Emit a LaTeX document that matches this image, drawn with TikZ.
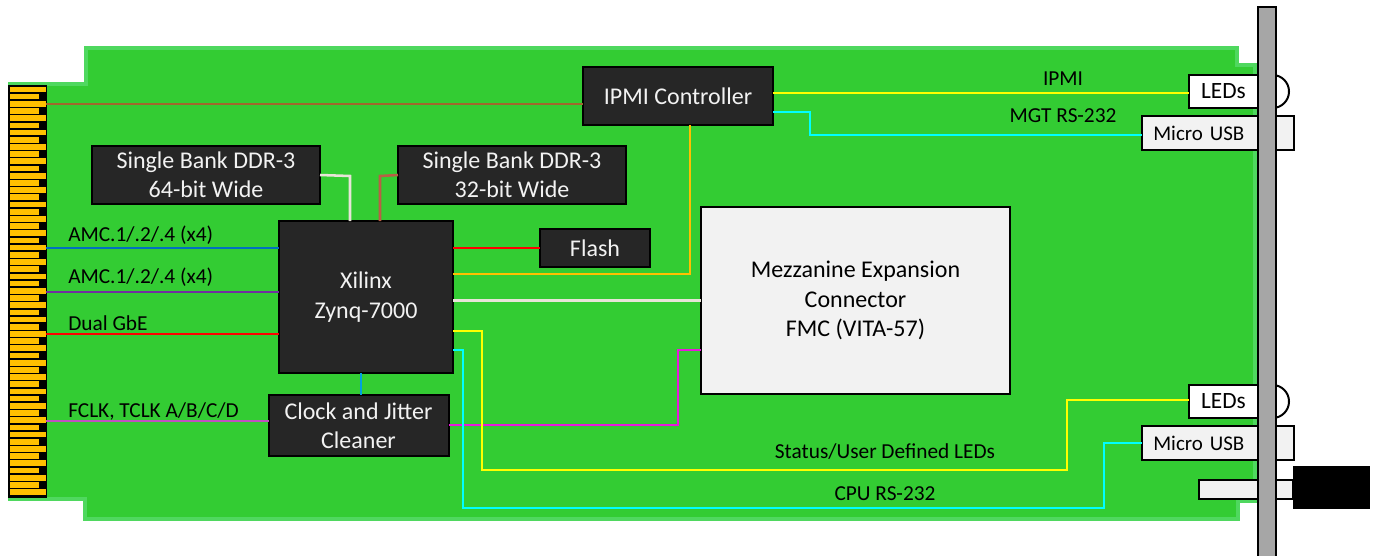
\documentclass[tikz,border=0pt]{standalone}
\usepackage{fontspec}
\usepackage{xcolor}
\usepackage{tikz}
\usetikzlibrary{positioning}
\setmainfont{Carlito}
\definecolor{boardGreen}{HTML}{33CC33}
\definecolor{boardEdge}{HTML}{4FD85F}
\definecolor{chipDark}{HTML}{262626}
\definecolor{partGrey}{HTML}{F2F2F2}
\definecolor{panelGrey}{HTML}{A6A6A6}
\definecolor{fingerGold}{HTML}{FFC000}
\definecolor{wireBrown}{HTML}{A0682D}
\definecolor{wireBlue}{HTML}{0070C0}
\definecolor{wireSky}{HTML}{00A0E0}
\definecolor{wirePurple}{HTML}{7030A0}
\definecolor{wireRed}{HTML}{FF0000}
\definecolor{wirePink}{HTML}{C050C0}
\definecolor{wireMagenta}{HTML}{E619DC}
\definecolor{wireRust}{HTML}{B85F45}
\definecolor{wirePale}{HTML}{E8E4D8}
\definecolor{wireYellow}{HTML}{FFFF00}
\definecolor{wireCyan}{HTML}{00FFFF}
\tikzset{
  chip/.style={draw=black, line width=1.5pt, fill=chipDark, text=partGrey, font=\fontsize{18}{22}\selectfont, align=center, inner sep=0pt, outer sep=0pt},
  part/.style={draw=black, line width=1.5pt, fill=partGrey, font=\fontsize{17.5}{20}\selectfont, inner sep=0pt, outer sep=0pt},
  usbpart/.style={part, font=\fontsize{15.7}{20}\selectfont, minimum width=114pt, minimum height=25.5pt, text width=114pt, align=left},
  wire/.style={line width=1.9pt},
  lbl/.style={font=\fontsize{16}{19}\selectfont, inner sep=0pt}
}
\begin{document}
\begin{tikzpicture}[x=.75pt, y=-.75pt]
  \useasboundingbox (0,0) rectangle (1374,556);
  % board outline
  \draw[boardEdge, line width=3pt, fill=boardGreen] (10,84) -- (86,84) -- (86,48) -- (1237,48) -- (1237,65) -- (1255,65) -- (1255,501) -- (1238,501) -- (1238,519) -- (85,519) -- (85,499) -- (10,499) -- cycle;
  % edge connector
  \node[draw=black, line width=1pt, fill=black, minimum width=27.75pt, minimum height=309pt, inner sep=0pt, outer sep=0pt] (edge) at (27.5,291.5) {};
  \foreach \i in {0,...,28}
    \fill[fingerGold, draw=black, line width=.6pt] (9,86+14.38*\i) rectangle (46,92.7+14.38*\i);
  \foreach \i in {0,...,27}
    \fill[fingerGold, draw=black, line width=.6pt] (9,93.2+14.38*\i) rectangle (39,99.9+14.38*\i);

  \node[chip, minimum width=130.5pt, minimum height=114pt] (zynq) at (366,297) {Xilinx\\Zynq-7000};
  \node[chip, below=16.5pt of zynq, xshift=-5.6pt, minimum width=135pt, minimum height=45.75pt] (clock) {Clock and Jitter\\Cleaner};
  \node[chip, above=12.75pt of zynq, xshift=-120pt, minimum width=171pt, minimum height=43.5pt] (ddrA) {Single Bank DDR-3\\64-bit Wide};
  \node[chip, right=58.5pt of ddrA, minimum width=171pt, minimum height=43.5pt] (ddrB) {Single Bank DDR-3\\32-bit Wide};
  \node[chip, minimum width=82.5pt, minimum height=28.5pt] (flash) at (595,248) {Flash};
  \node[chip, minimum width=142.5pt, minimum height=43.5pt] (ipmi) at (678,96) {IPMI Controller};
  \node[chip, fill=partGrey, text=black, minimum width=231.75pt, minimum height=140.25pt] (fmc) at (855.5,300.5) {\raisebox{-1.5pt}{Mezzanine Expansion}\\\raisebox{-1.5pt}{Connector}\\\raisebox{-1.5pt}{FMC (VITA-57)}};

  % front panel parts
  \node[circle, draw=black, line width=1.5pt, fill=white, minimum size=24.75pt, inner sep=0pt] (domeA) at (1272.5,91.5) {};
  \node[circle, draw=black, line width=1.5pt, fill=white, minimum size=24.75pt, inner sep=0pt] (domeB) at (1272.5,401.5) {};
  \node[part, fill=white, minimum width=52pt, minimum height=24.75pt] (ledA) at (1223.5,91.5) {LEDs};
  \node[part, fill=white, minimum width=52pt, minimum height=24.75pt] (ledB) at (1223.5,401.5) {LEDs};
  \node[usbpart] (usbA) at (1218,133) {\hspace{8.5pt}Micro USB};
  \node[usbpart] (usbB) at (1218,443) {\hspace{8.5pt}Micro USB};
  \node[part, minimum width=70.5pt, minimum height=14.25pt] (jack) at (1246,489.5) {};
  \node[draw=black, fill=panelGrey, line width=1.5pt, minimum width=13.5pt, minimum height=420pt, inner sep=0pt, outer sep=0pt] (panel) at (1267,287) {};
  \node[fill=black, minimum width=57.75pt, minimum height=32.25pt, inner sep=0pt, outer sep=0pt] (plug) at (1331.5,487.5) {};

  % wires
  \draw[wire, color=wireBrown] (edge.east |- 0,104) -- (ipmi.west |- 0,104);
  \draw[wire, color=wireBlue] (edge.east |- 0,248) -- (zynq.west |- 0,248);
  \draw[wire, color=wirePurple] (edge.east |- 0,292) -- (zynq.west |- 0,292);
  \draw[wire, color=wireRed] (edge.east |- 0,334) -- (zynq.west |- 0,334);
  \draw[wire, color=wirePink] (edge.east |- 0,421) -- (clock.west |- 0,421);
  \draw[wire, color=wirePale] (ddrA.east) -- (350,176) -- (zynq.north -| 350,0);
  \draw[wire, color=wireRust] (ddrB.west) -- (380,176) -- (zynq.north -| 380,0);
  \draw[wire, color=wireRed] (zynq.east |- flash.west) -- (flash.west);
  \draw[wire, line width=2.2pt, color=fingerGold] (ipmi.south -| 690,0) -- (690,274) -- (zynq.east |- 0,274);
  \draw[wire, color=wirePale] (zynq.east |- fmc.west) -- (fmc.west);
  \draw[wire, line width=2.2pt, color=wireSky] (clock.north -| 361,0) -- (zynq.south -| 361,0);
  \draw[wire, color=wireMagenta] (clock.east |- 0,425) -- (678,425) -- (678,350) -- (fmc.west |- 0,350);
  \draw[wire, color=wireYellow] (zynq.east |- 0,331) -- (482,331) -- (482,470) -- (1067,470) -- (1067,400) -- (ledB.west |- 0,400);
  \draw[wire, color=wireCyan] (zynq.east |- 0,350) -- (463,350) -- (463,508) -- (1104,508) -- (1104,443) -- (usbB.west);
  \draw[wire, color=wireYellow] (ipmi.east |- 0,93) -- (ledA.west |- 0,93);
  \draw[wire, color=wireCyan] (ipmi.east |- 0,112) -- (810,112) -- (810,135) -- (usbA.west |- 0,135);

  % labels
  \node[lbl, anchor=west] (lblA) at (68,235) {AMC.1/.2/.4 (x4)};
  \node[lbl, anchor=west] (lblB) at (68,277) {AMC.1/.2/.4 (x4)};
  \node[lbl, anchor=west] (lblC) at (68,323) {Dual GbE};
  \node[lbl, anchor=west] (lblD) at (68,411) {FCLK, TCLK A/B/C/D};
  \node[lbl] (lblE) at (1063,79) {IPMI};
  \node[lbl] (lblF) at (1063,116) {MGT RS-232};
  \node[lbl] (lblG) at (885,452) {Status/User Defined LEDs};
  \node[lbl] (lblH) at (885,494) {CPU RS-232};
\end{tikzpicture}
\end{document}
